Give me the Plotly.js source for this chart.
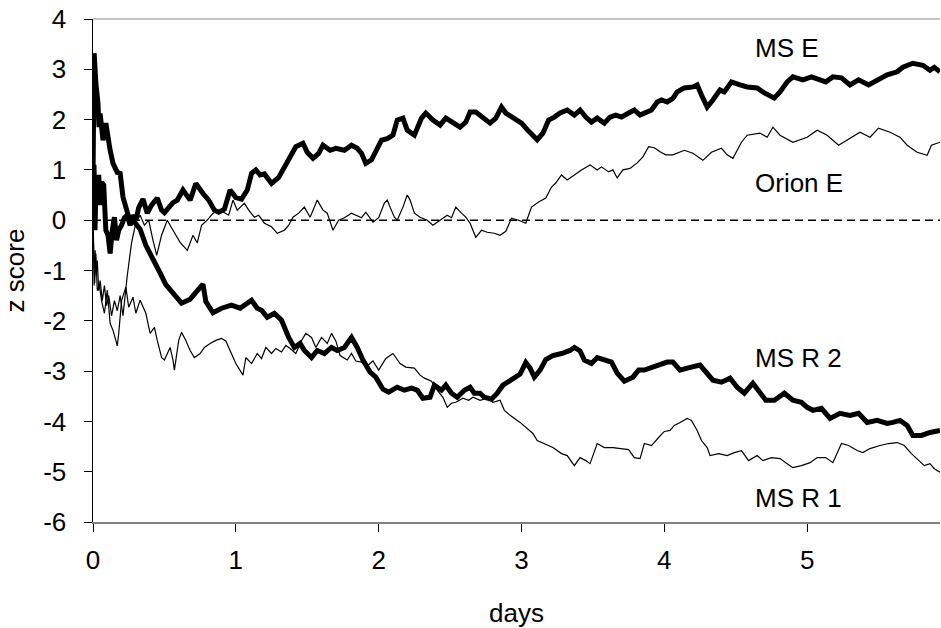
<!DOCTYPE html>
<html>
<head>
<meta charset="utf-8">
<script src="https://cdn.plot.ly/plotly-3.0.1.min.js"></script>
<style>html,body{margin:0;padding:0;background:#fff;}#chart{width:941px;height:628px;}</style>
</head>
<body>
<div id="chart"></div>
<script>
// ---- data ----
const seriesNames = ["MS E", "Orion E", "MS R 2", "MS R 1"];

const msE_days = [0,0.007,0.014,0.022,0.03,0.04,0.05,0.06,0.075,0.09,0.105,0.12,0.135,0.15,0.165,0.18,0.2,0.22,0.24,0.26,0.28,0.3,0.32,0.35,0.38,0.41,0.45,0.48,0.5,0.53,0.56,0.59,0.63,0.68,0.72,0.77,0.81,0.85,0.88,0.92,0.96,1.0,1.04,1.08,1.11,1.14,1.17,1.2,1.25,1.3,1.34,1.38,1.42,1.47,1.5,1.54,1.58,1.61,1.66,1.7,1.76,1.81,1.85,1.88,1.91,1.95,1.98,2.02,2.06,2.1,2.13,2.17,2.2,2.25,2.3,2.33,2.38,2.43,2.47,2.52,2.57,2.61,2.64,2.68,2.73,2.78,2.82,2.86,2.89,2.95,3.0,3.04,3.08,3.11,3.15,3.19,3.23,3.27,3.32,3.37,3.41,3.45,3.49,3.53,3.58,3.62,3.66,3.7,3.75,3.79,3.83,3.87,3.91,3.95,3.98,4.02,4.06,4.09,4.14,4.2,4.23,4.26,4.3,4.34,4.39,4.42,4.47,4.53,4.58,4.65,4.7,4.77,4.81,4.86,4.9,4.97,5.03,5.09,5.13,5.18,5.24,5.3,5.36,5.43,5.49,5.56,5.63,5.67,5.74,5.81,5.86,5.89,5.93];
const msE_z = [0,1.1,-0.2,0.9,0.5,0.9,0.3,0.75,0.7,-0.2,-0.3,-0.66,-0.2,0.06,-0.4,-0.2,-0.1,0.05,0.1,-0.1,0.1,0.0,0.25,0.42,0.14,0.3,0.44,0.2,0.15,0.26,0.35,0.4,0.6,0.4,0.73,0.53,0.4,0.2,0.16,0.22,0.6,0.45,0.42,0.6,0.93,1.0,0.9,0.92,0.73,0.85,1.06,1.26,1.46,1.53,1.35,1.23,1.33,1.49,1.39,1.43,1.39,1.49,1.43,1.33,1.13,1.2,1.35,1.59,1.62,1.69,1.99,2.03,1.79,1.69,2.03,2.13,1.99,1.89,2.03,1.93,1.85,1.95,2.15,2.15,2.05,1.93,2.03,2.25,2.13,2.03,1.93,1.8,1.69,1.6,1.73,1.99,2.05,2.13,2.19,2.09,2.19,2.05,1.95,2.03,1.93,2.05,2.09,2.05,2.13,2.19,2.09,2.15,2.19,2.35,2.39,2.35,2.42,2.55,2.63,2.65,2.69,2.49,2.25,2.39,2.59,2.55,2.75,2.69,2.65,2.63,2.53,2.43,2.55,2.75,2.85,2.79,2.85,2.79,2.75,2.85,2.83,2.69,2.79,2.69,2.79,2.89,2.95,3.04,3.12,3.08,2.98,3.04,2.95];

const orionE_days = [0,0.008,0.015,0.022,0.03,0.04,0.05,0.065,0.08,0.095,0.11,0.13,0.15,0.17,0.19,0.21,0.24,0.27,0.3,0.33,0.36,0.39,0.42,0.446,0.48,0.52,0.56,0.61,0.66,0.7,0.73,0.76,0.8,0.84,0.89,0.95,0.98,1.01,1.06,1.09,1.13,1.16,1.2,1.25,1.29,1.34,1.37,1.4,1.44,1.48,1.52,1.57,1.61,1.64,1.68,1.72,1.76,1.81,1.88,1.91,1.96,2.0,2.04,2.06,2.08,2.11,2.13,2.17,2.2,2.22,2.25,2.29,2.34,2.38,2.43,2.48,2.51,2.54,2.58,2.61,2.64,2.68,2.72,2.76,2.81,2.85,2.89,2.93,2.98,3.03,3.07,3.12,3.17,3.21,3.24,3.28,3.32,3.37,3.42,3.48,3.53,3.56,3.61,3.64,3.67,3.71,3.76,3.81,3.85,3.89,3.93,3.97,4.01,4.06,4.14,4.2,4.27,4.33,4.4,4.44,4.48,4.54,4.58,4.67,4.72,4.76,4.81,4.9,5.0,5.07,5.14,5.22,5.3,5.37,5.44,5.5,5.58,5.65,5.7,5.77,5.84,5.87,5.93];
const orionE_z = [0,-1.3,-0.6,-1.1,-0.8,-1.4,-1.2,-1.6,-1.3,-1.7,-1.5,-1.9,-1.6,-1.8,-1.5,-1.9,-1.1,-0.45,-0.05,0.1,-0.1,0.0,-0.4,-0.7,-0.3,0.0,-0.2,-0.44,-0.6,-0.3,-0.45,-0.1,0.0,0.14,0.2,0.1,0.4,0.2,0.34,0.2,0.06,0.1,-0.06,-0.13,-0.26,-0.2,-0.1,0.06,0.14,0.26,0.06,0.4,0.2,0.14,-0.2,0.0,0.05,0.14,0.05,0.16,-0.04,0.05,0.34,0.4,0.26,0.06,0.0,0.26,0.5,0.4,0.14,0.06,0.0,-0.1,0.0,0.1,0.05,0.26,0.14,0.06,-0.06,-0.34,-0.2,-0.24,-0.26,-0.3,-0.22,0.04,0.0,-0.06,0.26,0.36,0.44,0.66,0.74,0.9,0.8,0.9,1.0,1.1,1.0,1.06,0.96,1.0,0.84,1.0,1.03,1.14,1.26,1.46,1.44,1.36,1.3,1.3,1.39,1.33,1.19,1.35,1.43,1.3,1.23,1.55,1.69,1.73,1.65,1.85,1.69,1.55,1.65,1.79,1.69,1.49,1.63,1.75,1.65,1.83,1.75,1.65,1.49,1.35,1.29,1.49,1.55];

const msR2_days = [0,0.008,0.02,0.035,0.042,0.05,0.07,0.09,0.12,0.14,0.17,0.19,0.21,0.24,0.26,0.28,0.33,0.37,0.42,0.47,0.51,0.56,0.62,0.68,0.73,0.77,0.79,0.84,0.9,0.97,1.03,1.08,1.11,1.15,1.18,1.22,1.27,1.32,1.37,1.41,1.45,1.48,1.53,1.57,1.62,1.67,1.71,1.76,1.81,1.85,1.89,1.94,1.98,2.03,2.07,2.13,2.18,2.23,2.27,2.31,2.36,2.39,2.44,2.47,2.51,2.55,2.6,2.64,2.67,2.71,2.74,2.79,2.83,2.87,2.92,2.96,2.99,3.03,3.06,3.09,3.13,3.17,3.22,3.28,3.34,3.37,3.41,3.44,3.49,3.53,3.58,3.63,3.67,3.72,3.78,3.82,3.86,3.92,3.97,4.02,4.06,4.11,4.16,4.2,4.25,4.28,4.34,4.4,4.46,4.51,4.56,4.62,4.67,4.71,4.77,4.84,4.9,4.96,5.0,5.04,5.1,5.16,5.23,5.3,5.36,5.42,5.49,5.56,5.6,5.65,5.7,5.74,5.8,5.86,5.93];
const msR2_z = [0.8,3.32,2.72,2.32,1.85,2.12,1.59,1.93,1.39,1.13,0.95,0.93,0.46,0.14,-0.04,0.0,-0.18,-0.5,-0.75,-1.05,-1.28,-1.45,-1.65,-1.57,-1.42,-1.27,-1.62,-1.84,-1.75,-1.69,-1.75,-1.66,-1.59,-1.75,-1.79,-1.93,-1.85,-1.99,-2.33,-2.53,-2.45,-2.59,-2.73,-2.59,-2.65,-2.53,-2.59,-2.53,-2.33,-2.53,-2.78,-3.02,-3.12,-3.36,-3.42,-3.32,-3.38,-3.34,-3.38,-3.54,-3.52,-3.28,-3.38,-3.28,-3.44,-3.52,-3.38,-3.32,-3.44,-3.44,-3.52,-3.56,-3.44,-3.28,-3.18,-3.12,-3.06,-2.83,-2.94,-3.12,-2.98,-2.77,-2.69,-2.65,-2.59,-2.53,-2.6,-2.78,-2.85,-2.73,-2.78,-2.82,-3.04,-3.2,-3.12,-2.98,-2.98,-2.92,-2.85,-2.82,-2.82,-2.98,-2.94,-2.92,-2.88,-2.98,-3.18,-3.22,-3.14,-3.32,-3.44,-3.24,-3.42,-3.58,-3.58,-3.44,-3.58,-3.62,-3.72,-3.78,-3.74,-3.94,-3.84,-3.88,-3.84,-4.02,-3.98,-4.04,-4.02,-3.98,-4.08,-4.28,-4.28,-4.22,-4.18];

const msR1_days = [0,0.007,0.012,0.02,0.03,0.045,0.06,0.08,0.1,0.12,0.14,0.16,0.17,0.18,0.19,0.2,0.23,0.25,0.28,0.3,0.33,0.35,0.37,0.4,0.43,0.45,0.48,0.5,0.54,0.56,0.57,0.6,0.62,0.65,0.68,0.71,0.75,0.78,0.82,0.86,0.9,0.93,0.96,1.0,1.05,1.07,1.11,1.15,1.18,1.21,1.25,1.28,1.32,1.35,1.38,1.42,1.46,1.49,1.53,1.56,1.6,1.64,1.67,1.7,1.73,1.78,1.81,1.84,1.88,1.92,1.96,2.0,2.05,2.1,2.15,2.19,2.25,2.29,2.32,2.37,2.41,2.45,2.48,2.51,2.54,2.59,2.63,2.66,2.71,2.76,2.8,2.85,2.88,2.92,2.99,3.03,3.08,3.11,3.16,3.22,3.28,3.32,3.37,3.41,3.45,3.48,3.53,3.58,3.64,3.7,3.75,3.79,3.83,3.86,3.91,3.96,4.0,4.04,4.07,4.11,4.16,4.19,4.23,4.26,4.3,4.32,4.38,4.44,4.49,4.54,4.59,4.65,4.69,4.75,4.81,4.86,4.9,4.96,5.02,5.07,5.13,5.18,5.24,5.29,5.35,5.39,5.44,5.51,5.57,5.63,5.68,5.73,5.78,5.82,5.86,5.89,5.93];
const msR1_z = [0,-0.73,-1.25,-0.66,-1.4,-1.3,-1.6,-1.85,-1.39,-2.05,-2.19,-2.39,-2.5,-2.25,-1.85,-1.6,-1.33,-1.73,-1.53,-1.85,-1.59,-1.73,-1.85,-2.25,-2.13,-2.39,-2.73,-2.78,-2.53,-2.78,-2.98,-2.39,-2.23,-2.39,-2.59,-2.73,-2.65,-2.53,-2.45,-2.39,-2.35,-2.4,-2.59,-2.85,-3.08,-2.73,-2.85,-2.65,-2.75,-2.53,-2.65,-2.55,-2.62,-2.49,-2.55,-2.65,-2.39,-2.25,-2.33,-2.53,-2.33,-2.45,-2.25,-2.4,-2.69,-2.78,-2.65,-2.8,-2.82,-2.9,-2.8,-2.98,-2.75,-2.65,-2.85,-2.92,-2.94,-3.08,-3.14,-3.2,-3.38,-3.52,-3.72,-3.64,-3.62,-3.54,-3.58,-3.52,-3.58,-3.54,-3.62,-3.58,-3.78,-3.88,-4.02,-4.12,-4.24,-4.38,-4.44,-4.52,-4.64,-4.68,-4.88,-4.72,-4.78,-4.84,-4.44,-4.52,-4.52,-4.54,-4.56,-4.72,-4.74,-4.44,-4.48,-4.32,-4.2,-4.18,-4.08,-4.02,-3.94,-3.98,-4.18,-4.38,-4.52,-4.68,-4.64,-4.68,-4.62,-4.58,-4.78,-4.68,-4.78,-4.72,-4.74,-4.84,-4.92,-4.88,-4.82,-4.72,-4.72,-4.82,-4.44,-4.48,-4.58,-4.62,-4.54,-4.48,-4.44,-4.42,-4.48,-4.64,-4.78,-4.88,-4.84,-4.94,-5.01];

const xTickVals = [0, 1, 2, 3, 4, 5];
const xTickLabels = ["0", "1", "2", "3", "4", "5"];
const yTickVals = [-6, -5, -4, -3, -2, -1, 0, 1, 2, 3, 4];
const yTickLabels = ["-6", "-5", "-4", "-3", "-2", "-1", "0", "1", "2", "3", "4"];

// ---- chart ----
const FONT = {family: "Liberation Sans, Arial, sans-serif", size: 26, color: "#000"};
const thick = {color: "#000", width: 5};
const thin = {color: "#000", width: 1.2};

const traces = [
  {x: msE_days, y: msE_z, name: seriesNames[0], mode: "lines", line: thick},
  {x: orionE_days, y: orionE_z, name: seriesNames[1], mode: "lines", line: thin},
  {x: msR2_days, y: msR2_z, name: seriesNames[2], mode: "lines", line: thick},
  {x: msR1_days, y: msR1_z, name: seriesNames[3], mode: "lines", line: thin}
];

const labelPos = [[4.62, 3.42], [4.62, 0.74], [4.62, -2.74], [4.62, -5.53]];
const annotations = seriesNames.map((t, i) => ({
  x: labelPos[i][0], y: labelPos[i][1], xref: "x", yref: "y",
  text: t, showarrow: false, xanchor: "left", yanchor: "middle", font: FONT
}));

const layout = {
  width: 941, height: 628,
  margin: {l: 93, r: 1, t: 19, b: 106},
  paper_bgcolor: "#fff", plot_bgcolor: "#fff",
  font: FONT,
  showlegend: false,
  xaxis: {
    range: [0, 5.93], tickvals: xTickVals, ticktext: xTickLabels,
    showgrid: false, zeroline: false, showline: true, linecolor: "#808080", linewidth: 1.5,
    ticks: "outside", ticklen: 8, tickcolor: "#000", tickwidth: 1,
    ticklabelstandoff: 6,
    title: {text: "days", font: FONT, standoff: 30}
  },
  yaxis: {
    range: [-6, 4], tickvals: yTickVals, ticktext: yTickLabels,
    showgrid: false, zeroline: false, showline: true, linecolor: "#000", linewidth: 1.5,
    ticks: "outside", ticklen: 8, tickcolor: "#000", tickwidth: 1,
    ticklabelstandoff: 12,
    title: {text: "z score", font: FONT, standoff: 16}
  },
  shapes: [
    {type: "line", xref: "paper", yref: "y", x0: 0, x1: 1, y0: 0, y1: 0,
     line: {color: "#000", width: 1.5, dash: "8px,5px"}, layer: "below"},
    {type: "line", xref: "paper", yref: "paper", x0: 0, x1: 1, y0: 1, y1: 1,
     line: {color: "#b0b0b0", width: 1.5}, layer: "below"}
  ],
  annotations: annotations
};

Plotly.newPlot("chart", traces, layout, {displayModeBar: false, staticPlot: true});
</script>
</body>
</html>
